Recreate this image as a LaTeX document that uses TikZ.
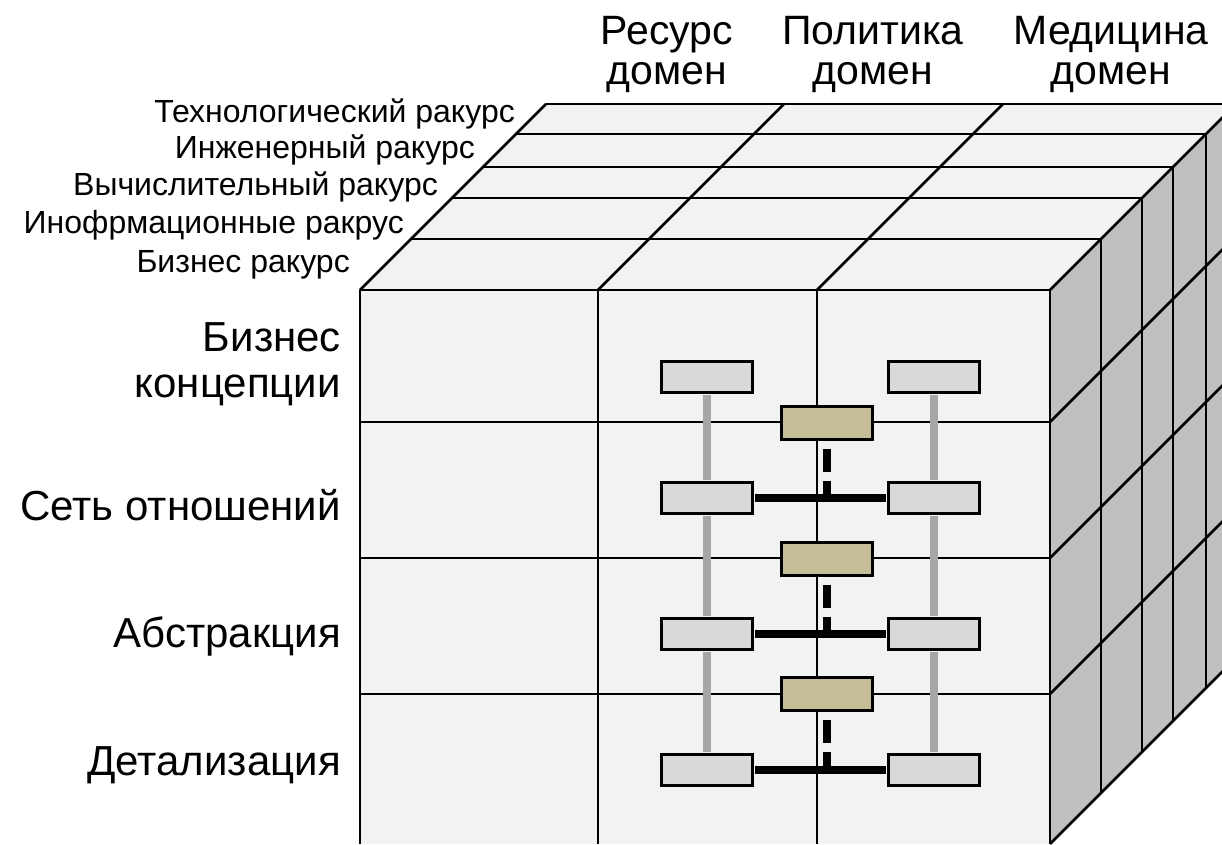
\documentclass[tikz,border=0pt]{standalone}
\usepackage{fontspec}
\setmainfont{Liberation Sans}
\usetikzlibrary{positioning,calc}
\definecolor{FaceLight}{HTML}{F2F2F2}
\definecolor{SideGrey}{HTML}{C0C0C0}
\definecolor{BoxGrey}{HTML}{D9D9D9}
\definecolor{BoxTan}{HTML}{C4BD97}
\definecolor{LinkGrey}{HTML}{A6A6A6}

\begin{document}
\begin{tikzpicture}[x=1pt,y=-1pt,
  edge/.style={line width=2.6pt},
  gbox/.style={draw,line width=2.6pt,fill=BoxGrey,minimum width=91pt,minimum height=31pt,inner sep=0pt},
  tbox/.style={gbox,fill=BoxTan,minimum height=33pt},
  glink/.style={LinkGrey,line width=8pt,shorten <=1.3pt,shorten >=1.3pt},
  blink/.style={black,line width=8pt,shorten <=1.3pt,shorten >=1.3pt},
  dlink/.style={black,line width=8pt,dash pattern=on 23pt off 9pt,dash phase=24pt},
  bigtxt/.style={font=\fontsize{42}{46}\selectfont,inner sep=0pt},
  domtxt/.style={font=\fontsize{41}{40}\selectfont,inner sep=0pt},
  smalltxt/.style={font=\fontsize{32}{36}\selectfont,inner sep=0pt}]
  \useasboundingbox (0,0) rectangle (1222,844);
  % грани куба
  \fill[FaceLight] (360,290) rectangle (1050,844);
  \fill[FaceLight] (360,290) -- (546,104) -- (1236,104) -- (1050,290) -- cycle;
  \fill[SideGrey] (1050,290) -- (1236,104) -- (1236,658) -- (1050,844) -- cycle;
  % верхняя грань: ракурсы
  \foreach \d in {0,51,92,123,156,186}
    \draw[edge] (360+\d,290-\d) -- (1050+\d,290-\d);
  \foreach \x in {360,598,817,1050}
    \draw[edge] (\x,290) -- (\x+186,104);
  % боковая грань
  \foreach \d in {51,92,123,156}
    \draw[edge] (1050+\d,290-\d) -- (1050+\d,844-\d);
  \foreach \y in {422,558,694,844}
    \draw[edge] (1050,\y) -- (1236,\y-186);
  % передняя грань
  \foreach \y in {422,558,694}
    \draw[edge] (360,\y) -- (1050,\y);
  \foreach \x in {360,598,817,1050}
    \draw[edge] (\x,290) -- (\x,844);
  % блоки
  \foreach \r/\y in {1/377,2/498,3/634,4/770}{
    \node[gbox] (l\r) at (707,\y) {};
    \node[gbox] (r\r) at (934,\y) {};
  }
  \foreach \t/\y in {1/423,2/559,3/694}
    \node[tbox] (t\t) at (827,\y) {};
  % связи
  \foreach \a/\b in {1/2,2/3,3/4}{
    \draw[glink] (l\a.south) -- (l\b.north);
    \draw[glink] (r\a.south) -- (r\b.north);
  }
  \foreach \t/\r in {1/2,2/3,3/4}{
    \draw[blink] (l\r.east) -- (r\r.west);
    \coordinate (j\r) at (t\t.south |- l\r.east);
    \draw[dlink] (t\t.south) -- (j\r);
  }
  % подписи
  \foreach \x/\lbl [count=\i] in {667/Ресурс,873/Политика,1111/Медицина}
    \node[domtxt,align=center,anchor=north] (dom\i) at (\x,16) {\lbl\\домен};
  \foreach \x/\y/\lbl [count=\i] in {515/122/Технологический ракурс,475/158/Инженерный ракурс,438/195/Вычислительный ракурс,404/233/Инофрмационные ракрус,350/272/Бизнес ракурс}
    \node[smalltxt,anchor=base east] (view\i) at (\x,\y) {\lbl};
  \node[bigtxt,align=right,anchor=north east] (lvl1) at (341,322) {Бизнес\\концепции};
  \foreach \y/\lbl [count=\i from 2] in {520/Сеть отношений,647/Абстракция,775/Детализация}
    \node[bigtxt,anchor=base east] (lvl\i) at (341,\y) {\lbl};
\end{tikzpicture}
\end{document}
